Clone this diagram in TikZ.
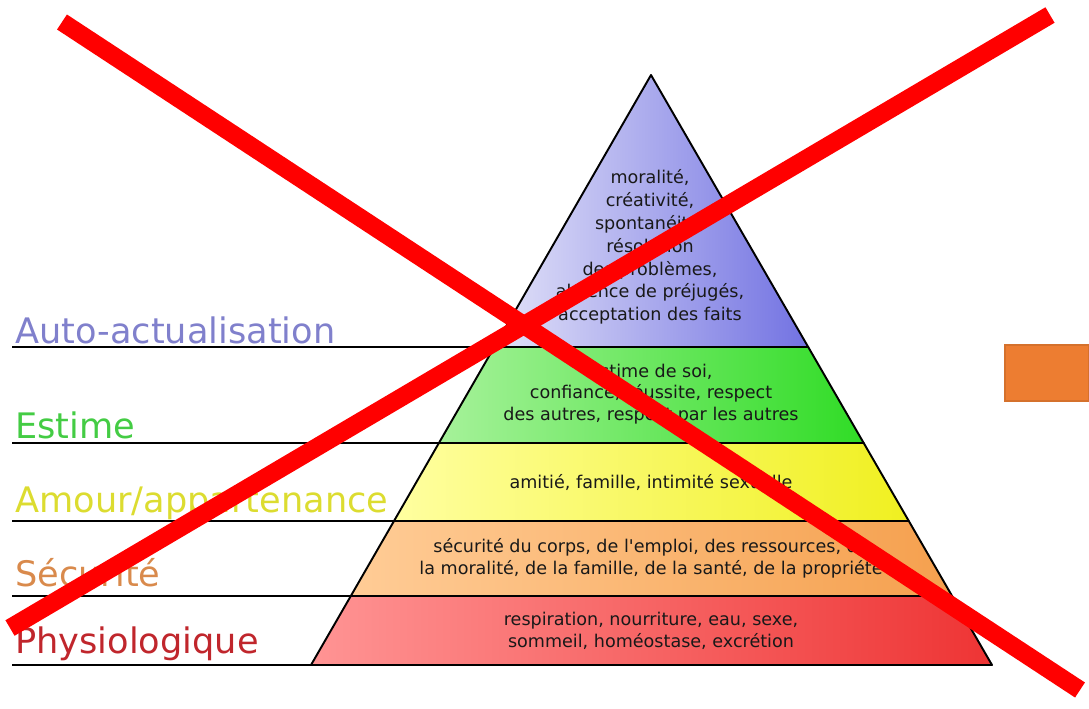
\documentclass[tikz,border=0pt]{standalone}
\usepackage{fontspec}
\setmainfont{DejaVu Sans}
\usetikzlibrary{positioning}

\definecolor{blueL}{HTML}{E2E2F8}
\definecolor{blueR}{HTML}{7272E2}
\definecolor{greenL}{HTML}{A6F29A}
\definecolor{greenR}{HTML}{30DC26}
\definecolor{yellowL}{HTML}{FFFFA0}
\definecolor{yellowR}{HTML}{F0F020}
\definecolor{orangeL}{HTML}{FFCC96}
\definecolor{orangeR}{HTML}{F5A04E}
\definecolor{redL}{HTML}{FF9494}
\definecolor{redR}{HTML}{EE3434}
\definecolor{autoC}{HTML}{8080CC}
\definecolor{estimeC}{HTML}{44CC44}
\definecolor{amourC}{HTML}{DCDC30}
\definecolor{secuC}{HTML}{D98A4C}
\definecolor{physioC}{HTML}{C0262C}
\definecolor{boxC}{HTML}{ED7D31}

\begin{document}
\begin{tikzpicture}[
    x=0.02cm, y=-0.02cm,
    tier/.style={draw=black, line width=1.1pt, line join=round},
    tiertext/.style={align=center, font=\fontsize{10}{12.4}\selectfont, text=black!90, inner sep=0pt},
    level/.style={anchor=base west, font=\fontsize{20}{24}\selectfont, inner sep=0pt},
    rule/.style={draw=black, line width=1.1pt},
    cross/.style={draw=red, line width=0.36cm, line cap=butt}
]
\useasboundingbox (0,0) rectangle (1089,708);

% pyramid corners
\coordinate (apex) at (651,75);
\coordinate (t1l) at (494.3,347);
\coordinate (t1r) at (808.2,347);
\coordinate (t2l) at (438.9,443);
\coordinate (t2r) at (863.7,443);
\coordinate (t3l) at (394.0,521);
\coordinate (t3r) at (908.8,521);
\coordinate (t4l) at (350.8,596);
\coordinate (t4r) at (952.1,596);
\coordinate (t5l) at (311,665);
\coordinate (t5r) at (992,665);

% left ends of the level rules
\coordinate (r1) at (12,347);
\coordinate (r2) at (12,443);
\coordinate (r3) at (12,521);
\coordinate (r4) at (12,596);
\coordinate (r5) at (12,665);

% tiers
\draw[tier, left color=blueL, right color=blueR] (apex) -- (t1r) -- (t1l) -- cycle;
\draw[tier, left color=greenL, right color=greenR] (t1l) -- (t1r) -- (t2r) -- (t2l) -- cycle;
\draw[tier, left color=yellowL, right color=yellowR] (t2l) -- (t2r) -- (t3r) -- (t3l) -- cycle;
\draw[tier, left color=orangeL, right color=orangeR] (t3l) -- (t3r) -- (t4r) -- (t4l) -- cycle;
\draw[tier, left color=redL, right color=redR] (t4l) -- (t4r) -- (t5r) -- (t5l) -- cycle;

\node[tiertext, font=\fontsize{10}{13}\selectfont] (autoText) at (650,247) {moralité,\\créativité,\\spontanéité,\\résolution\\des problèmes,\\absence de préjugés,\\acceptation des faits};
\node[tiertext] (estimeText) at (651,394) {estime de soi,\\confiance, réussite, respect\\des autres, respect par les autres};
\node[tiertext] (amourText) at (651,482) {amitié, famille, intimité sexuelle};
\node[tiertext] (secuText) at (651,558) {sécurité du corps, de l\textquotesingle emploi, des ressources, de\\la moralité, de la famille, de la santé, de la propriété};
\node[tiertext] (physioText) at (651,631) {respiration, nourriture, eau, sexe,\\sommeil, homéostase, excrétion};

% level rules and labels
\draw[rule] (r1) -- (t1l);
\draw[rule] (r2) -- (t2l);
\draw[rule] (r3) -- (t3l);
\draw[rule] (r4) -- (t4l);
\draw[rule] (r5) -- (t5l);

\node[level, text=autoC] (autoLabel) at (15,343) {Auto-actualisation};
\node[level, text=estimeC] (estimeLabel) at (15,438) {Estime};
\node[level, text=amourC] (amourLabel) at (15,512) {Amour/appartenance};
\node[level, text=secuC] (secuLabel) at (15,586) {Sécurité};
\node[level, text=physioC] (physioLabel) at (15,653) {Physiologique};

% orange box at the right edge
\draw[fill=boxC, draw=boxC!90!black, line width=0.6pt] (1005,345) rectangle (1089,401);

% red cross
\coordinate (c1a) at (62,22);
\coordinate (c1b) at (1080,690);
\coordinate (c2a) at (1050,15);
\coordinate (c2b) at (10,628);
\draw[cross] (c1a) -- (c1b);
\draw[cross] (c2a) -- (c2b);

\end{tikzpicture}
\end{document}
